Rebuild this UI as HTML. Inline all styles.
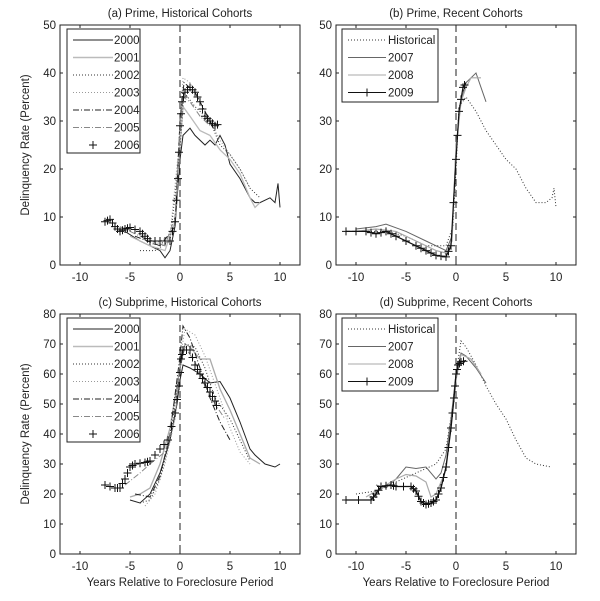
<!DOCTYPE html><html><head><meta charset="utf-8"><style>body{margin:0;background:#fff}svg{display:block}text{font-family:"Liberation Sans",sans-serif;fill:#222}</style></head><body>
<svg id="s" width="600" height="601" xmlns="http://www.w3.org/2000/svg"></svg>
<script>
const S=document.getElementById('s');let h='';
const P={a:{x0:60,y0:25,ymax:50,yt:[0,10,20,30,40,50],t:'(a) Prime, Historical Cohorts'},
b:{x0:336,y0:25,ymax:50,yt:[0,10,20,30,40,50],t:'(b) Prime, Recent Cohorts'},
c:{x0:60,y0:314,ymax:80,yt:[0,10,20,30,40,50,60,70,80],t:'(c) Subprime, Historical Cohorts'},
d:{x0:336,y0:314,ymax:80,yt:[0,10,20,30,40,50,60,70,80],t:'(d) Subprime, Recent Cohorts'}};
const W=240,H=240;
function X(p,v){return p.x0+(v+12)*10}function Y(p,v){return p.y0+H-v*H/p.ymax}
const st={solid:'',dot:'1,2',dashdot:'6,2,1,2',dash:'6,4'};
function line(p,pts,col,dash,w,plus){let d=pts.map((q,i)=>(i?'L':'M')+X(p,q[0]).toFixed(1)+','+Y(p,q[1]).toFixed(1)).join('');
if(!plus||plus==2)h+=`<path d="${d}" fill="none" stroke="${col}" stroke-width="${w||1}" ${dash?`stroke-dasharray="${dash}"`:''}/>`;
if(plus){for(let i=0;i<pts.length-1;i++){for(let t=0;t<1;t+=0.5){let x=pts[i][0]+(pts[i+1][0]-pts[i][0])*t,y=pts[i][1]+(pts[i+1][1]-pts[i][1])*t;let cx=X(p,x),cy=Y(p,y);h+=`<path d="M${cx-4},${cy}h8M${cx},${cy-4}v8" stroke="#111" stroke-width="1"/>`}}}}
for(const k in P){const p=P[k];
h+=`<rect x="${p.x0}" y="${p.y0}" width="${W}" height="${H}" fill="#fff" stroke="#222"/>`;
h+=`<text x="${p.x0+120}" y="${p.y0-8}" font-size="11.5" text-anchor="middle">${p.t}</text>`;
for(const v of p.yt){const y=Y(p,v);h+=`<path d="M${p.x0},${y}h3M${p.x0+W},${y}h-3" stroke="#222"/><text x="${p.x0-4}" y="${y+4}" font-size="11.5" text-anchor="end">${v}</text>`}
for(const v of [-10,-5,0,5,10]){const x=X(p,v);h+=`<path d="M${x},${p.y0+H}v-3M${x},${p.y0}v3" stroke="#222"/><text x="${x}" y="${p.y0+H+16}" font-size="11.5" text-anchor="middle">${v}</text>`}
h+=`<path d="M${X(p,0)},${p.y0}V${p.y0+H}" stroke="#222" stroke-dasharray="7,4"/>`;}
h+=`<text transform="translate(29,145) rotate(-90)" font-size="11.5" text-anchor="middle">Delinquency Rate (Percent)</text>`;
h+=`<text transform="translate(29,434) rotate(-90)" font-size="11.5" text-anchor="middle">Delinquency Rate (Percent)</text>`;
h+=`<text x="180" y="586" font-size="11.5" text-anchor="middle">Years Relative to Foreclosure Period</text>`;
h+=`<text x="456" y="586" font-size="11.5" text-anchor="middle">Years Relative to Foreclosure Period</text>`;
const a=P.a,b=P.b,c=P.c,d=P.d;
line(a,[[-5.5,7],[-4,5],[-2,3],[-1.5,1.5],[-1,3],[-0.5,8],[0,22],[0.3,27],[1,28.5],[1.5,27],[2.5,25],[3,26],[3.5,25],[4,27],[4.5,25],[5,21],[6,18],[7,14],[7.5,13],[8,13],[9,14],[9.5,13],[9.8,17],[10,12]],'#222','');
line(a,[[-5,6],[-3,4],[-1.5,3],[-0.5,9],[0,25],[0.3,33],[1,31],[2,28],[3,27],[4,24],[5,22],[6,19],[7,14],[7.5,12],[8,13]],'#bbb','',1.3);
line(a,[[-4,3],[-2.5,3],[-1,5],[0,24],[0.4,36],[1.5,33],[3,30],[4,25],[5,23],[6,20],[7,16],[8,14]],'#333',st.dot);
line(a,[[-3,4],[-1,6],[0,27],[0.3,39],[1,38],[2,34],[3,30],[4,26],[5,23],[6,20],[7,16]],'#999',st.dot);
line(a,[[-4.5,6],[-2,4],[-0.5,8],[0,30],[0.4,38],[1.5,36],[2.5,32],[3.5,28]],'#222',st.dashdot);
line(a,[[-6,8],[-4,6],[-1.5,4],[-0.5,10],[0,30],[0.3,35],[1,34],[2,31],[3,29]],'#888',st.dashdot);
line(a,[[-7.5,9],[-7,9.5],[-6.5,8],[-6,7],[-5.5,7.5],[-5,7.8],[-4,7],[-3.5,6],[-3,5],[-2,5],[-1,5],[-0.5,9],[-0.2,18],[0,29],[0.2,34],[0.5,36],[1,37],[1.5,36],[2,34],[2.5,31],[3,30],[3.5,29],[4,29.5]],'#111','',1,1);
h+=`<rect x="67" y="29" width="73" height="124" fill="#fff" stroke="#222"/>`;
const la=[['2000','#222',''],['2001','#bbb',''],['2002','#333',st.dot],['2003','#999',st.dot],['2004','#222',st.dashdot],['2005','#888',st.dashdot],['2006','',null]];
la.forEach((e,i)=>{const y=40+i*17.5;if(e[2]!==null)h+=`<path d="M73,${y}h40" stroke="${e[1]}" ${e[2]?`stroke-dasharray="${e[2]}"`:''} stroke-width="${i==1?1.4:1}"/>`;else h+=`<path d="M89,${y}h8M93,${y-4}v8" stroke="#111"/>`;h+=`<text x="114" y="${y+4}" font-size="11.5">${e[0]}</text>`});
line(b,[[-10,7],[-7,7],[-5,6],[-3,4],[-1,4],[-0.3,8],[0,20],[0.3,33],[1,35],[2,32],[3,28],[4,25],[5,22],[6,20],[7,16],[8,13],[9,13],[9.6,14],[9.8,16],[10,12]],'#333',st.dot);
line(b,[[-10,7.5],[-8,8],[-7,8.5],[-5,7],[-3,5],[-1,3],[-0.4,6],[0,25],[0.5,34],[1,38],[2,40],[2.5,37],[3,34]],'#666','');
line(b,[[-10,7],[-8,7.5],[-6,7],[-4,5],[-2,3],[-1,2.5],[-0.4,5],[0,24],[0.5,34],[1,37],[1.5,39],[2.5,39]],'#aaa','',1.2);
line(b,[[-11,7],[-9,7],[-8,6.5],[-7,7],[-6,6],[-4,4],[-3,3],[-2,2],[-1,1.7],[-0.5,4],[0,22],[0.3,32],[0.7,37],[1,38]],'#111','',1.2,2);
line(c,[[-5,18],[-4,17],[-3,20],[-2,27],[-1,38],[-0.3,50],[0,58],[0.3,63],[1,62],[2,60],[3,57],[4,57.5],[5,52],[6,44],[7,35],[7.5,33],[8.5,30],[9.5,29],[10,30]],'#222','');
line(c,[[-5,19],[-4,20],[-3,22],[-2,30],[-1,42],[0,62],[0.5,70],[1,69],[2,65],[3,65],[4,55],[5,48],[6,40],[7,32],[8,30]],'#aaa','',1.3);
line(c,[[-4,17],[-3,18],[-2,25],[-1,38],[0,62],[0.5,70],[1.5,69],[2.5,62],[3.5,52],[5,45],[6,38],[7,31]],'#333',st.dot);
line(c,[[-3.5,16],[-2.5,20],[-1.5,30],[-0.5,45],[0,65],[0.5,75],[1.5,73],[2.5,66],[4,52],[5,42],[6,34],[7,30]],'#999',st.dot);
line(c,[[-4.5,20],[-3,19],[-2,26],[-1,40],[0,66],[0.3,76],[1,72],[2,62],[3,52],[4,44],[5,38]],'#222',st.dashdot);
line(c,[[-5.5,23],[-4,27],[-3,30],[-1.5,34],[-0.5,45],[0,62],[0.5,69],[1.5,64],[2.5,56],[3.5,50],[4.5,45]],'#888',st.dashdot);
line(c,[[-7.5,23],[-6.5,22],[-6,22],[-5.5,25],[-5,29],[-4.5,30],[-3.5,30.5],[-3,31],[-2,35],[-1.2,38],[-0.5,47],[-0.1,56],[0.1,65],[0.3,68],[1,68],[1.5,63],[2,60],[2.5,57],[3,54],[3.5,51],[3.8,48]],'#111','',1,1);
h+=`<rect x="67" y="318" width="73" height="124" fill="#fff" stroke="#222"/>`;
la.forEach((e,i)=>{const y=329+i*17.5;if(e[2]!==null)h+=`<path d="M73,${y}h40" stroke="${e[1]}" ${e[2]?`stroke-dasharray="${e[2]}"`:''} stroke-width="${i==1?1.4:1}"/>`;else h+=`<path d="M89,${y}h8M93,${y-4}v8" stroke="#111"/>`;h+=`<text x="114" y="${y+4}" font-size="11.5">${e[0]}</text>`});
line(d,[[-10,20],[-8,21],[-6,24],[-4,27],[-2,30],[-1,35],[-0.3,50],[0,60],[0.5,71],[1,69],[2,63],[3,56],[4,50],[5,45],[6,38],[7,32],[8,30],[9.5,29]],'#333',st.dot);
line(d,[[-8,23],[-7,22],[-6,25],[-5,29],[-4,28.5],[-3,29],[-2,25],[-1.5,27],[-1,33],[-0.5,45],[0,60],[0.5,67],[1,66],[2,62],[3,57]],'#666','');
line(d,[[-9,19],[-7,23],[-6,25],[-5,26.5],[-4,26],[-3,24],[-2.5,19],[-2,20],[-1,28],[0,58],[0.5,66.5],[1.5,65],[2.5,60]],'#aaa','',1.2);
line(d,[[-11,18],[-8.5,18],[-8,20],[-7.5,22.5],[-6.5,23],[-6,22.5],[-4.5,22.5],[-4,21],[-3.5,17.5],[-3,16.5],[-2.5,17],[-2,18],[-1.5,22],[-1,29],[-0.5,42],[-0.2,52],[0,60],[0.2,63],[0.5,64],[1,64.5]],'#111','',1.3,2);
function leg2(y0){h+=`<rect x="342" y="${y0}" width="96" height="73" fill="#fff" stroke="#222"/>`;
const L=[['Historical','#333',st.dot],['2007','#666',''],['2008','#aaa',''],['2009','#111','']];
L.forEach((e,i)=>{const y=y0+11+i*17.5;h+=`<path d="M348,${y}h38" stroke="${e[1]}" ${e[2]?`stroke-dasharray="${e[2]}"`:''}/>`;if(i==3)h+=`<path d="M367,${y-4}v8" stroke="#111"/>`;h+=`<text x="388" y="${y+4}" font-size="11.5">${e[0]}</text>`})}
leg2(29);leg2(318);
S.innerHTML=h;
</script></body></html>
